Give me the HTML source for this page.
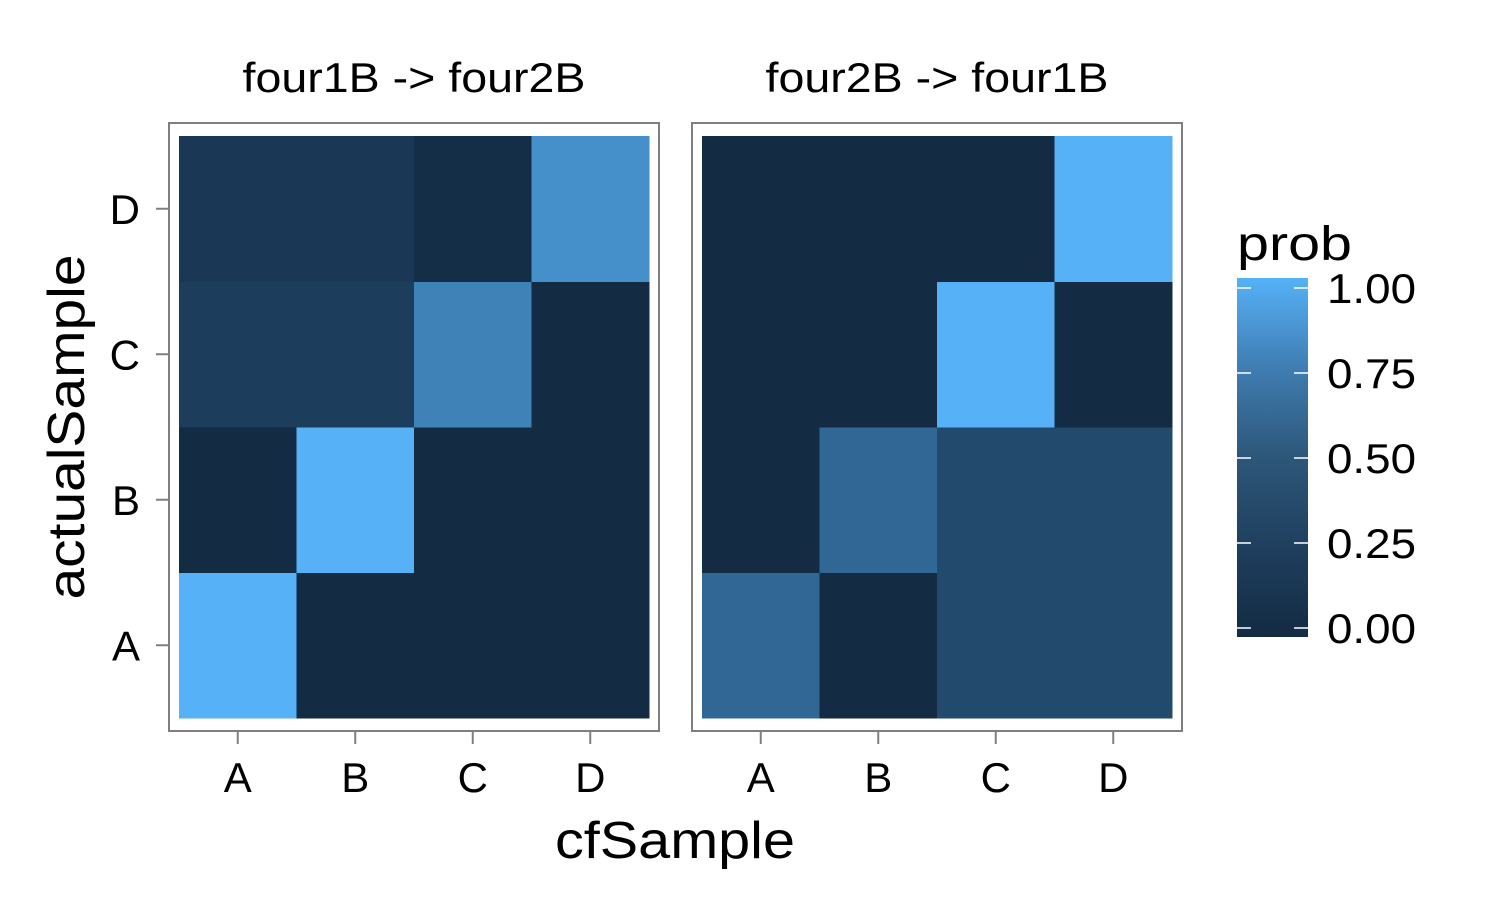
<!DOCTYPE html>
<html><head><meta charset="utf-8">
<style>
html,body{margin:0;padding:0;background:#fff;}
svg text{font-family:"Liberation Sans",Arial,sans-serif;fill:#000;}
</style></head>
<body>
<svg id="chart" width="1500" height="900" xmlns="http://www.w3.org/2000/svg">
<defs>
<linearGradient id="grad" x1="0" y1="1" x2="0" y2="0">
<stop offset="0" stop-color="#132B43"/>
<stop offset="0.25" stop-color="#1F3F5E"/>
<stop offset="0.5" stop-color="#2D5779"/>
<stop offset="0.75" stop-color="#3F7DB2"/>
<stop offset="1" stop-color="#56B1F7"/>
</linearGradient>
</defs>
<g id="panels"></g>
<text x="675" y="858" font-size="52" text-anchor="middle" textLength="240" lengthAdjust="spacingAndGlyphs">cfSample</text>
<text transform="translate(84,427) rotate(-90)" font-size="52" text-anchor="middle" textLength="345" lengthAdjust="spacingAndGlyphs">actualSample</text>
<g>
<text x="1237" y="260" font-size="48" textLength="115" lengthAdjust="spacingAndGlyphs">prob</text>
<rect x="1237" y="278" width="71" height="359" fill="url(#grad)"/>
<g id="legend-ticks"></g>
</g>
</svg>
<script>
const categories = ["A","B","C","D"];
const panelTitles = ["four1B -> four2B","four2B -> four1B"];
// values[panel][row actualSample A..D][col cfSample A..D]
const panel1Values = [
  [1.0, 0.0, 0.0, 0.0],
  [0.0, 1.0, 0.0, 0.0],
  [0.14, 0.14, 0.65, 0.0],
  [0.1, 0.1, 0.02, 0.75]
];
const panel2Values = [
  [0.45, 0.0, 0.23, 0.23],
  [0.0, 0.45, 0.23, 0.23],
  [0.0, 0.0, 1.0, 0.0],
  [0.0, 0.0, 0.0, 1.0]
];
const legendTicks = [0, 0.25, 0.5, 0.75, 1.0];
const legendLabels = ["0.00","0.25","0.50","0.75","1.00"];

const NS = "http://www.w3.org/2000/svg";
function mk(tag, attrs, parent){const e=document.createElementNS(NS,tag);for(const k in attrs)e.setAttribute(k,attrs[k]);parent.appendChild(e);return e;}
const lo=[0x13,0x2B,0x43], hi=[0x56,0xB1,0xF7];
function color(v){
  return "rgb("+lo.map((c,i)=>Math.round(c+(hi[i]-c)*v)).join(",")+")";
}
const panelsG=document.getElementById("panels");
const panelX=[168,691], panelW=492, panelY=122, panelH=610, pad=11, padY=14;
const allVals=[panel1Values,panel2Values];
function xScale(p,i){const w=(panelW-2*pad)/4;return panelX[p]+pad+i*w;}
function yScale(i){const h=(panelH-2*padY)/4;return panelY+panelH-padY-(i+1)*h;}
allVals.forEach((vals,p)=>{
  const g=mk("g",{},panelsG);
  
  
  const t=mk("text",{x:panelX[p]+panelW/2,y:92,"font-size":42,"text-anchor":"middle",textLength:343,lengthAdjust:"spacingAndGlyphs"},g);
  t.textContent=panelTitles[p];
  
  
  const cw=(panelW-2*pad)/4, ch=(panelH-2*padY)/4;
  vals.forEach((row,r)=>row.forEach((v,c)=>{
    const rc=mk("rect",{x:xScale(p,c),y:yScale(r),width:cw+0.5,height:ch+0.5,fill:color(v)},g);
    
    
  }));
  const b=mk("rect",{x:panelX[p]+1,y:panelY+1,width:panelW-2,height:panelH-2,fill:"none",stroke:"#7f7f7f","stroke-width":2},g);
  
  
  categories.forEach((cat,i)=>{
    const x=xScale(p,i)+cw/2;
    mk("line",{x1:x,x2:x,y1:panelY+panelH,y2:panelY+panelH+12,stroke:"#7f7f7f","stroke-width":2},g);
    const tx=mk("text",{x:x,y:792,"font-size":42,"text-anchor":"middle"},g);
    tx.textContent=cat;
    
    
  });
  if(p===0){
    categories.forEach((cat,i)=>{
      const y=yScale(i)+ch/2;
      mk("line",{x1:panelX[0]-12,x2:panelX[0],y1:y,y2:y,stroke:"#7f7f7f","stroke-width":2},g);
      const ty=mk("text",{x:140,y:y+15,"font-size":42,"text-anchor":"end"},g);
      ty.textContent=cat;
      
      
    });
  }
});
const lg=document.getElementById("legend-ticks");
function lScale(v){return 628-v*(628-288);}
legendTicks.forEach((v,i)=>{
  const y=lScale(v);
  mk("line",{x1:1237,x2:1251,y1:y,y2:y,stroke:"#fff","stroke-width":1.5},lg);
  mk("line",{x1:1294,x2:1308,y1:y,y2:y,stroke:"#fff","stroke-width":1.5},lg);
  const t=mk("text",{x:1327,y:y+15,"font-size":42,textLength:89,lengthAdjust:"spacingAndGlyphs"},lg);
  t.textContent=legendLabels[i];
  
  
});
</script>
</body></html>
